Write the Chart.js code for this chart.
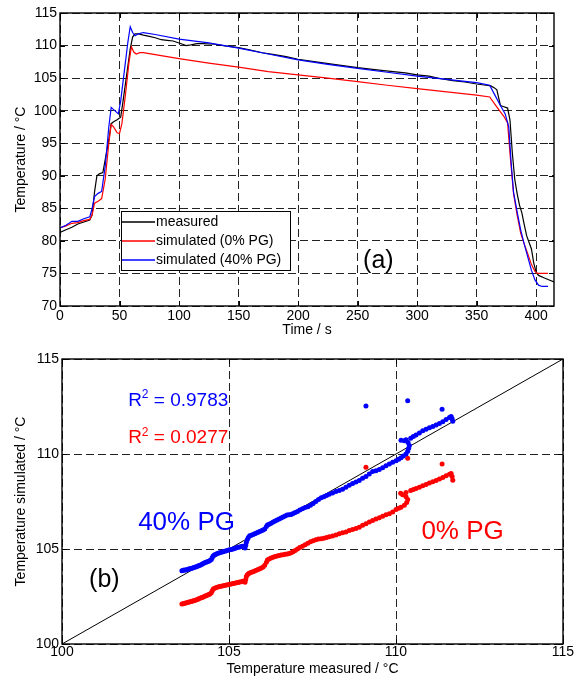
<!DOCTYPE html>
<html>
<head>
<meta charset="utf-8">
<script src="https://cdn.jsdelivr.net/npm/chart.js@4.4.0/dist/chart.umd.min.js"></script>
<style>
  body { margin: 0; background: #fff; }
  #wrap { position: relative; width: 583px; height: 680px; }
  #chartA { position: absolute; left: 0; top: 0; }
  #chartB { position: absolute; left: 0; top: 345px; }
</style>
</head>
<body>
<div id="wrap">
  <canvas id="chartA" width="583" height="345"></canvas>
  <canvas id="chartB" width="583" height="335"></canvas>
</div>
<script>
// --- DATA (a): temperature vs time ---
const timeMeas = [0,5,10,15,20,25,27,29,31,33,36,38,41,43,45,48,51,53,56,59,61,63,66,70,75,80,85,90,95,100,103,106,110,115,120,130,140,150,160,170,180,190,200,215,230,250,270,290,300,310,320,330,340,350,358,362,365,367,370,373,376,378,380,382,384,386,388,390,392,394,396,398,400,402,407,411,415];
const tempMeas = [81.3,81.7,82.1,82.6,82.9,83.2,84.0,87.5,90.0,90.3,90.5,92.5,95.5,98.0,98.3,98.6,99.0,101.5,105.5,109.5,111.3,111.8,111.8,111.6,111.4,111.2,110.9,110.8,110.7,110.4,110.2,110.0,110.1,110.3,110.3,110.2,109.9,109.7,109.3,108.9,108.6,108.3,107.9,107.5,107.1,106.6,106.2,105.8,105.5,105.3,104.9,104.6,104.4,104.1,103.9,103.8,103.5,103.2,100.8,100.6,100.4,98.6,93.5,89.5,87.3,85.5,84.3,82.5,80.8,79.8,78.8,76.6,75.2,74.7,74.3,74.0,73.7];

const timeSim0 = [0,5,10,15,20,25,27,29,32,35,38,41,43,45,48,50,52,55,58,60,62,64,67,70,80,100,125,150,175,200,225,250,275,300,325,350,361,366,370,373,376,378,381,384,387,390,393,396,399,401,405,410];
const tempSim0 = [82.0,82.3,82.7,82.8,83.1,83.3,84.0,85.8,86.1,86.5,89.5,95.0,97.9,97.5,96.6,96.5,98.0,102.5,107.5,109.8,109.0,108.7,108.9,108.9,108.6,108.0,107.3,106.7,106.0,105.5,105.0,104.45,103.9,103.4,102.9,102.4,102.1,100.8,99.8,99.1,98.1,93.5,87.3,84.0,81.2,79.5,78.0,76.4,75.3,75.0,75.0,75.0];

const timeSim40 = [0,5,10,15,20,25,27,29,32,35,38,41,43,46,49,51,54,57,59,61,63,66,70,80,100,125,150,175,200,225,250,275,300,325,350,361,365,370,374,377,379,381,384,387,390,393,396,399,402,405,410];
const tempSim40 = [82.0,82.4,83.0,83.0,83.4,83.7,85.0,86.8,87.3,87.6,91.5,97.5,100.5,100.0,99.5,101.5,106.0,110.5,112.9,112.0,111.5,111.8,112.0,111.7,111.0,110.4,109.6,108.7,107.8,107.1,106.5,105.9,105.3,104.8,104.3,103.9,102.5,100.8,99.5,97.5,92.0,87.5,84.5,81.7,79.5,77.5,75.5,74.0,73.2,73.0,73.0];

const timeTicks = [0,50,100,150,200,250,300,350,400];
const tempTicks = [70,75,80,85,90,95,100,105,110,115];
const seriesLabels = ["measured", "simulated (0% PG)", "simulated (40% PG)"];

// --- DATA (b): [measured, simulated] pairs ---
const points40 = [
  [103.59,103.86],[103.63,103.88],[103.67,103.89],[103.71,103.9],[103.75,103.92],[103.79,103.95],[103.83,103.96],[103.87,103.98],
  [103.91,104.0],[103.95,104.02],[103.99,104.05],[104.03,104.07],[104.07,104.1],[104.11,104.13],[104.15,104.16],[104.19,104.2],
  [104.23,104.24],[104.27,104.27],[104.31,104.3],[104.35,104.33],[104.39,104.36],[104.43,104.4],[104.47,104.45],[104.5,104.55],
  [104.53,104.65],[104.57,104.7],[104.62,104.74],[104.67,104.77],[104.72,104.8],[104.77,104.83],[104.82,104.86],[104.87,104.88],
  [104.92,104.91],[104.97,104.94],[105.02,104.96],[105.07,104.98],[105.12,105.0],[105.17,105.03],[105.22,105.06],[105.27,105.09],
  [105.32,105.11],[105.37,105.13],[105.42,105.15],[105.48,105.05],[105.5,105.2],[105.52,105.35],[105.55,105.5],[105.58,105.6],
  [105.62,105.7],[105.67,105.73],[105.72,105.76],[105.77,105.8],[105.82,105.84],[105.87,105.88],[105.92,105.92],[105.97,105.96],
  [106.02,106.0],[106.07,106.05],[106.12,106.18],[106.15,106.26],[106.2,106.3],[106.26,106.36],[106.32,106.42],[106.38,106.48],
  [106.44,106.53],[106.5,106.58],[106.56,106.63],[106.62,106.68],[106.68,106.74],[106.74,106.79],[106.8,106.8],[106.86,106.82],
  [106.92,106.87],[106.98,106.92],[107.05,106.98],[107.12,107.05],[107.2,107.12],[107.28,107.18],[107.36,107.22],[107.44,107.3],
  [107.52,107.4],[107.6,107.5],[107.68,107.6],[107.76,107.7],[107.84,107.75],[107.92,107.82],[108.0,107.88],[108.1,107.95],
  [108.2,108.02],[108.3,108.08],[108.4,108.15],[108.5,108.25],[108.6,108.35],[108.7,108.45],[108.8,108.52],[108.9,108.6],
  [109.0,108.72],[109.1,108.82],[109.2,108.95],[109.3,109.08],[109.4,109.12],[109.5,109.18],[109.6,109.28],[109.7,109.38],
  [109.8,109.48],[109.9,109.56],[110.0,109.65],[110.08,109.72],[110.15,109.8],[110.22,109.9],[110.3,110.0],[110.35,110.15],
  [110.38,110.3],[110.4,110.45],[110.36,110.6],[110.25,110.7],[110.15,110.72],[110.3,110.75],[110.44,110.83],[110.52,110.92],
  [110.6,111.0],[110.7,111.1],[110.8,111.22],[110.9,111.3],[111.0,111.38],[111.1,111.45],[111.2,111.52],[111.3,111.6],
  [111.4,111.7],[111.5,111.82],[111.6,111.92],[111.65,111.98],[111.68,111.85],[111.7,111.72],
  [109.1,112.53],[110.35,112.8],[111.38,112.35]
];
const points0 = [
  [103.59,102.1],[103.63,102.12],[103.67,102.14],[103.71,102.16],[103.75,102.18],[103.79,102.2],[103.83,102.22],[103.87,102.24],
  [103.91,102.26],[103.95,102.28],[103.99,102.3],[104.03,102.33],[104.07,102.36],[104.11,102.39],[104.15,102.42],[104.19,102.45],
  [104.23,102.48],[104.27,102.51],[104.31,102.54],[104.35,102.57],[104.39,102.6],[104.43,102.63],[104.47,102.7],[104.5,102.8],
  [104.53,102.9],[104.57,102.94],[104.62,102.97],[104.67,103.0],[104.72,103.02],[104.77,103.04],[104.82,103.06],[104.87,103.08],
  [104.92,103.1],[104.97,103.12],[105.02,103.14],[105.07,103.16],[105.12,103.18],[105.17,103.2],[105.22,103.22],[105.27,103.24],
  [105.32,103.26],[105.37,103.28],[105.42,103.3],[105.48,103.25],[105.5,103.4],[105.52,103.55],[105.55,103.65],[105.58,103.7],
  [105.62,103.74],[105.67,103.77],[105.72,103.8],[105.77,103.84],[105.82,103.88],[105.87,103.92],[105.92,103.96],[105.97,104.0],
  [106.02,104.05],[106.07,104.15],[106.12,104.3],[106.15,104.42],[106.2,104.48],[106.26,104.52],[106.32,104.56],[106.38,104.6],
  [106.44,104.63],[106.5,104.66],[106.56,104.68],[106.62,104.7],[106.68,104.72],[106.74,104.74],[106.8,104.76],[106.86,104.8],
  [106.92,104.85],[106.98,104.92],[107.05,105.0],[107.12,105.08],[107.2,105.15],[107.28,105.22],[107.36,105.3],[107.44,105.38],
  [107.52,105.44],[107.6,105.49],[107.68,105.52],[107.76,105.54],[107.84,105.57],[107.92,105.6],[108.0,105.64],[108.1,105.69],
  [108.2,105.74],[108.3,105.8],[108.4,105.85],[108.5,105.9],[108.6,105.97],[108.7,106.03],[108.8,106.08],[108.9,106.15],
  [109.0,106.25],[109.1,106.33],[109.2,106.42],[109.3,106.5],[109.4,106.58],[109.5,106.65],[109.6,106.72],[109.7,106.8],
  [109.8,106.86],[109.9,106.95],[110.0,107.08],[110.08,107.15],[110.15,107.2],[110.25,107.3],[110.32,107.45],[110.35,107.6],
  [110.3,107.75],[110.2,107.85],[110.14,107.93],[110.3,107.98],[110.44,108.08],[110.52,108.13],[110.6,108.18],[110.7,108.25],
  [110.8,108.33],[110.9,108.4],[111.0,108.48],[111.1,108.54],[111.2,108.6],[111.3,108.68],[111.4,108.76],[111.5,108.85],
  [111.6,108.94],[111.65,108.98],[111.68,108.82],[111.7,108.62],
  [109.1,109.3],[110.35,109.77],[111.38,109.47]
];

const diagLine = [100, 115];
const scatterTicks = [100,105,110,115];

// --- STYLE ---
const FONT = "'Liberation Sans', Arial, sans-serif";
const BLACK = "#000000", RED = "#ff0000", BLUE = "#0000ff";
Chart.defaults.font.family = FONT;
Chart.defaults.color = BLACK;

const zip = (xs, ys) => xs.map((v, i) => ({ x: v, y: ys[i] }));
const pairs = list => list.map(p => ({ x: p[0], y: p[1] }));

function axis(min, max, ticks, title, size, titlePad, tickPad) {
  return {
    type: "linear", min, max,
    afterBuildTicks: s => { s.ticks = ticks.map(v => ({ value: v })); },
    afterFit: s => { if (s.isHorizontal()) s.height = size; else s.width = size; },
    grid: { color: "#222", lineWidth: 1, drawTicks: false },
    border: { display: false, dash: [8, 4] },
    ticks: { color: BLACK, font: { size: 14 }, padding: tickPad, maxRotation: 0, autoSkip: false },
    title: { display: true, text: title, color: BLACK, font: { size: 14 }, padding: titlePad }
  };
}

// box + inward tick marks, like the original plot
const framePlugin = {
  id: "frame",
  afterDatasetsDraw(chart) {
    const { ctx, chartArea: a, scales: { x, y } } = chart;
    ctx.save();
    ctx.strokeStyle = BLACK;
    ctx.lineWidth = 1;
    ctx.beginPath();
    x.ticks.forEach(t => {
      const px = Math.round(x.getPixelForValue(t.value)) + 0.5;
      ctx.moveTo(px, a.bottom); ctx.lineTo(px, a.bottom - 5);
      ctx.moveTo(px, a.top); ctx.lineTo(px, a.top + 5);
    });
    y.ticks.forEach(t => {
      const py = Math.round(y.getPixelForValue(t.value)) + 0.5;
      ctx.moveTo(a.left, py); ctx.lineTo(a.left + 5, py);
      ctx.moveTo(a.right, py); ctx.lineTo(a.right - 5, py);
    });
    ctx.stroke();
    ctx.lineWidth = 1.4;
    ctx.strokeRect(a.left, a.top, a.right - a.left, a.bottom - a.top);
    ctx.restore();
  }
};

// free text placed in data units; parts can be superscript
const notesPlugin = {
  id: "notes",
  afterDraw(chart, args, opts) {
    const { ctx, scales: { x, y } } = chart;
    ctx.save();
    ctx.textBaseline = "alphabetic";
    (opts.items || []).forEach(n => {
      let px = x.getPixelForValue(n.x);
      const py = y.getPixelForValue(n.y);
      ctx.fillStyle = n.color;
      n.parts.forEach(p => {
        const sz = p.sup ? Math.round(n.size * 0.63) : n.size;
        ctx.font = sz + "px " + FONT;
        ctx.fillText(p.t, px, p.sup ? py - n.size * 0.4 : py);
        px += ctx.measureText(p.t).width;
      });
    });
    ctx.restore();
  }
};

const legendPlugin = {
  id: "boxLegend",
  afterDraw(chart) {
    const { ctx, chartArea: a } = chart;
    const bx = a.left + 61, by = a.top + 198, bw = 169, bh = 59;
    ctx.save();
    ctx.fillStyle = "#fff";
    ctx.fillRect(bx, by, bw, bh);
    ctx.strokeStyle = BLACK;
    ctx.lineWidth = 1;
    ctx.strokeRect(bx + 0.5, by + 0.5, bw, bh);
    ctx.font = "14px " + FONT;
    ctx.textBaseline = "middle";
    chart.data.datasets.forEach((ds, i) => {
      const ry = by + 11 + i * 19;
      ctx.strokeStyle = ds.borderColor;
      ctx.lineWidth = 1.3;
      ctx.beginPath();
      ctx.moveTo(bx + 1, ry); ctx.lineTo(bx + 34, ry);
      ctx.stroke();
      ctx.fillStyle = BLACK;
      ctx.fillText(ds.label, bx + 35, ry);
    });
    ctx.restore();
  }
};

// --- CHART (a) ---
new Chart(document.getElementById("chartA"), {
  type: "line",
  data: {
    datasets: [
      { label: seriesLabels[0], data: zip(timeMeas, tempMeas), borderColor: BLACK, order: 2 },
      { label: seriesLabels[1], data: zip(timeSim0, tempSim0), borderColor: RED, order: 1 },
      { label: seriesLabels[2], data: zip(timeSim40, tempSim40), borderColor: BLUE, order: 0 }
    ].map(d => Object.assign(d, { borderWidth: 1.2, pointRadius: 0, tension: 0, fill: false }))
  },
  options: {
    responsive: false,
    animation: false,
    layout: { padding: { top: 13, right: 29, left: 0, bottom: 0 } },
    scales: {
      x: axis(0, 415, timeTicks, "Time / s", 39, { top: 0, bottom: 6 }, 2),
      y: axis(70, 115, tempTicks, "Temperature / °C", 60, { top: 13, bottom: 0 }, 3)
    },
    plugins: {
      legend: { display: false },
      tooltip: { enabled: false },
      notes: { items: [{ parts: [{ t: "(a)" }], x: 254.6, y: 75.8, size: 25, color: BLACK }] }
    }
  },
  plugins: [framePlugin, legendPlugin, notesPlugin]
});

// --- CHART (b) ---
new Chart(document.getElementById("chartB"), {
  type: "scatter",
  data: {
    datasets: [
      { label: "40% PG", data: pairs(points40), backgroundColor: BLUE, borderColor: BLUE, pointRadius: 2.5, borderWidth: 0 },
      { label: "0% PG", data: pairs(points0), backgroundColor: RED, borderColor: RED, pointRadius: 2.5, borderWidth: 0 },
      { type: "line", label: "y = x", data: zip(diagLine, diagLine), borderColor: BLACK, borderWidth: 1, pointRadius: 0 }
    ]
  },
  options: {
    responsive: false,
    animation: false,
    layout: { padding: { top: 14, right: 20, left: 0, bottom: 0 } },
    scales: {
      x: axis(100, 115, scatterTicks, "Temperature measured / °C", 36, { top: 0, bottom: 2 }, 0),
      y: axis(100, 115, scatterTicks, "Temperature simulated / °C", 62, { top: 13, bottom: 0 }, 3)
    },
    plugins: {
      legend: { display: false },
      tooltip: { enabled: false },
      notes: {
        items: [
          { parts: [{ t: "R" }, { t: "2", sup: true }, { t: " = 0.9783" }], x: 101.98, y: 112.53, size: 19, color: BLUE },
          { parts: [{ t: "R" }, { t: "2", sup: true }, { t: " = 0.0277" }], x: 101.98, y: 110.56, size: 19, color: RED },
          { parts: [{ t: "40% PG" }], x: 102.28, y: 106.0, size: 26, color: BLUE },
          { parts: [{ t: "0% PG" }], x: 110.76, y: 105.53, size: 26, color: RED },
          { parts: [{ t: "(b)" }], x: 100.81, y: 103.0, size: 25, color: BLACK }
        ]
      }
    }
  },
  plugins: [framePlugin, notesPlugin]
});
</script>
</body>
</html>
